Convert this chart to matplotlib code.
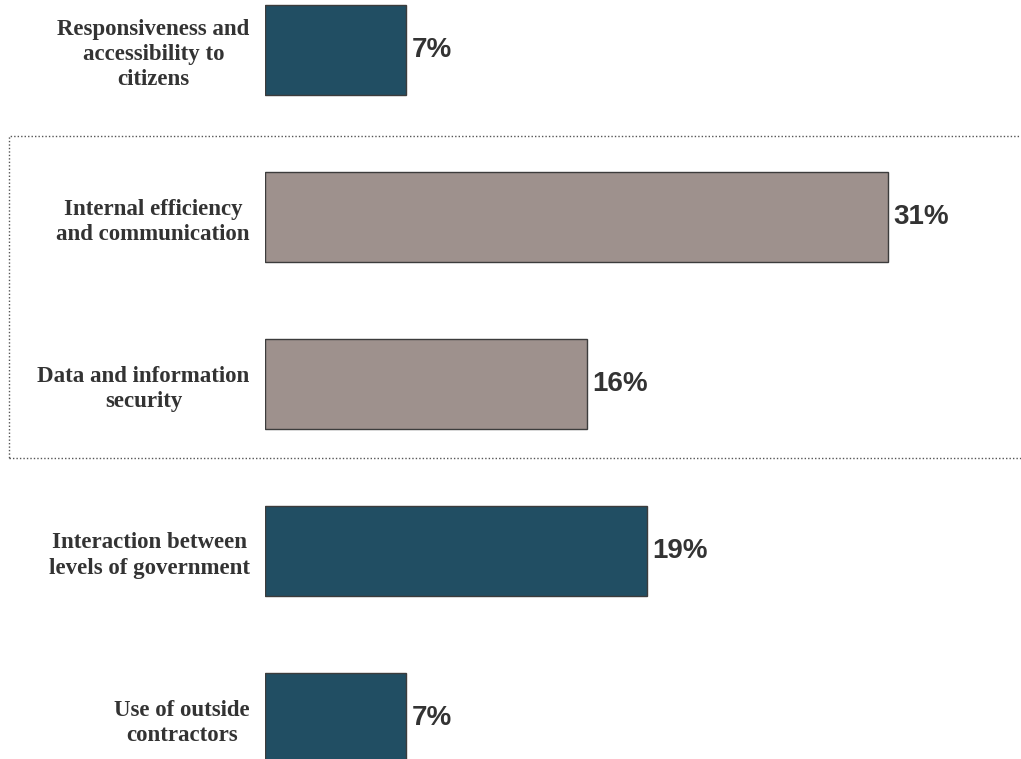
import matplotlib
matplotlib.use("Agg")
import matplotlib.pyplot as plt
from matplotlib.patches import Rectangle

categories = [
    "Responsiveness and\naccessibility to\ncitizens",
    "Internal efficiency\nand communication",
    "Data and information\nsecurity",
    "Interaction between\nlevels of government",
    "Use of outside\ncontractors",
]
values = [7, 31, 16, 19, 7]
highlighted = [False, True, True, False, False]

TEAL = "#214e63"
TAUPE = "#9e918d"
EDGE = "#3c3c3c"
TEXT = "#333333"

W, H = 1021, 759
fig = plt.figure(figsize=(W / 100, H / 100), dpi=100)
fig.patch.set_facecolor("white")

# axes begin where the bars start; y runs top to bottom
ax = fig.add_axes([265 / W, 0, 1 - 265 / W, 1])
pitch = 167.0
ax.set_ylim((H - 50) / pitch, -50 / pitch)
ax.set_xlim(0, (W - 265) / 20.1)

ypos = list(range(len(values)))
colors = [TAUPE if h else TEAL for h in highlighted]
ax.barh(ypos, values, height=90 / pitch, color=colors,
        edgecolor=EDGE, linewidth=1.0, zorder=2)

for y, v in zip(ypos, values):
    ax.annotate(f"{v}%", xy=(v, y), xytext=(4, 0), textcoords="offset points",
                ha="left", va="center", fontsize=20, fontweight="bold",
                family="Liberation Sans", color=TEXT)

ax.set_yticks(ypos)
ax.set_yticklabels(categories, fontsize=16.5, fontweight="bold",
                   family="Liberation Serif", color=TEXT, linespacing=1.27)
for lab in ax.get_yticklabels():
    lab.set_multialignment("center")
ax.tick_params(axis="y", length=0, pad=11)
ax.set_xticks([])
for s in ax.spines.values():
    s.set_visible(False)
ax.patch.set_alpha(0)

# dotted frame around the highlighted group
frame = Rectangle((9 / W, 1 - 458 / H), (W + 10 - 9) / W, (458 - 136) / H,
                  transform=fig.transFigure, fill=False, edgecolor="#555555",
                  linestyle=(0, (1, 1.5)), linewidth=1.0, clip_on=False)
fig.patches.append(frame)

fig.savefig("out.png", dpi=100)
